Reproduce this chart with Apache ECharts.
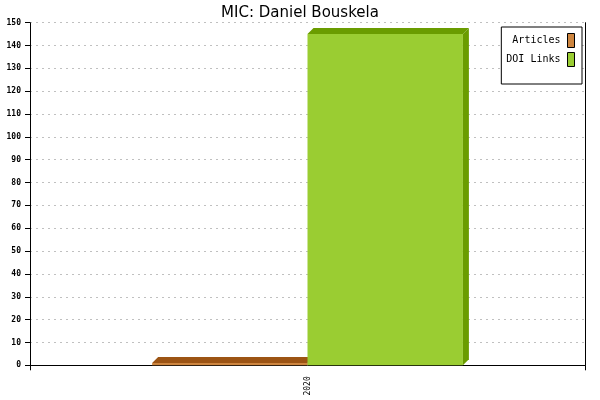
<!DOCTYPE html>
<html>
<head>
<meta charset="utf-8">
<script src="https://cdn.jsdelivr.net/npm/echarts@6/dist/echarts.min.js"></script>
<style>
  html, body { margin: 0; padding: 0; background: #fff; }
  #chart { width: 600px; height: 400px; }
</style>
</head>
<body>
<div id="chart"></div>
<script>
var years = ['2020']
var articles = [1]
var doiLinks = [145]
var yTicks = { min: 0, max: 150, step: 10 }

var monoFont = 'DejaVu Sans Mono'

// bar with a little 3d top and side, offset = position of bar in the group
function bar3d (offset, front, dark) {
  return function (params, api) {
    var base = api.coord([api.value(0), 0])
    var top = api.coord([api.value(0), api.value(1)])
    var band = api.size([1, 0])[0]
    var w = band * 0.28
    var d = 6
    var x0 = base[0] + offset * w
    var x1 = x0 + w
    var y0 = base[1]
    var y1 = top[1]
    return {
      type: 'group',
      children: [{
        type: 'rect',
        shape: { x: x0, y: y1, width: w, height: y0 - y1 },
        style: { fill: front }
      }, {
        type: 'polygon',
        shape: { points: [[x0, y1], [x0 + d, y1 - d], [x1 + d, y1 - d], [x1, y1]] },
        style: { fill: dark }
      }, {
        type: 'polygon',
        shape: { points: [[x1, y1], [x1 + d, y1 - d], [x1 + d, y0 - d], [x1, y0]] },
        style: { fill: dark }
      }]
    }
  }
}

function toData (values) {
  var out = []
  for (var i = 0; i < values.length; i++) {
    out.push([i, values[i]])
  }
  return out
}

var option = {
  animation: false,
  backgroundColor: '#fff',
  title: {
    text: 'MIC: Daniel Bouskela',
    left: 'center',
    top: 1,
    textStyle: {
      fontSize: 15,
      fontWeight: 'normal',
      fontFamily: 'DejaVu Sans',
      color: '#000'
    }
  },
  legend: {
    orient: 'vertical',
    right: 18,
    top: 27,
    align: 'right',
    padding: [6, 7, 17, 5],
    itemGap: 4,
    itemWidth: 7,
    itemHeight: 14,
    icon: 'rect',
    borderColor: '#000',
    borderWidth: 1,
    backgroundColor: '#fff',
    textStyle: {
      fontFamily: monoFont,
      fontSize: 10,
      color: '#000',
      padding: [0, 2, 0, 0]
    },
    itemStyle: {
      borderColor: '#000',
      borderWidth: 1
    },
    data: ['Articles', 'DOI Links']
  },
  grid: {
    left: 30,
    right: 15,
    top: 22.7,
    bottom: 34.7
  },
  xAxis: {
    type: 'category',
    data: years,
    axisLine: {
      show: true,
      lineStyle: { color: '#000', width: 1 }
    },
    axisTick: {
      show: true,
      length: 5,
      lineStyle: { color: '#000' }
    },
    axisLabel: {
      rotate: 90,
      margin: 11,
      fontFamily: monoFont,
      fontSize: 8,
      color: '#000'
    },
    splitLine: { show: false }
  },
  yAxis: [{
    type: 'value',
    min: yTicks.min,
    max: yTicks.max,
    interval: yTicks.step,
    axisLine: {
      show: true,
      lineStyle: { color: '#000', width: 1 }
    },
    axisTick: {
      show: true,
      length: 5,
      lineStyle: { color: '#000' }
    },
    axisLabel: {
      margin: 9,
      fontFamily: monoFont,
      fontSize: 8,
      fontWeight: 'bold',
      color: '#000'
    },
    splitLine: {
      show: true,
      lineStyle: { color: '#c0c0c0', type: [2, 4], width: 1 }
    }
  }, {
    // right border line
    type: 'value',
    position: 'right',
    min: yTicks.min,
    max: yTicks.max,
    interval: yTicks.step,
    axisLine: {
      show: true,
      lineStyle: { color: '#000', width: 1 }
    },
    axisTick: { show: false },
    axisLabel: { show: false },
    splitLine: { show: false }
  }],
  series: [{
    name: 'Articles',
    type: 'custom',
    renderItem: bar3d(-1, '#cd853f', '#9c5414'),
    itemStyle: { color: '#cd853f' },
    encode: { x: 0, y: 1 },
    data: toData(articles)
  }, {
    name: 'DOI Links',
    type: 'custom',
    renderItem: bar3d(0, '#9acd32', '#6a9c00'),
    itemStyle: { color: '#9acd32' },
    encode: { x: 0, y: 1 },
    data: toData(doiLinks)
  }]
}

var myChart = echarts.init(document.getElementById('chart'))
myChart.setOption(option)
</script>
</body>
</html>
